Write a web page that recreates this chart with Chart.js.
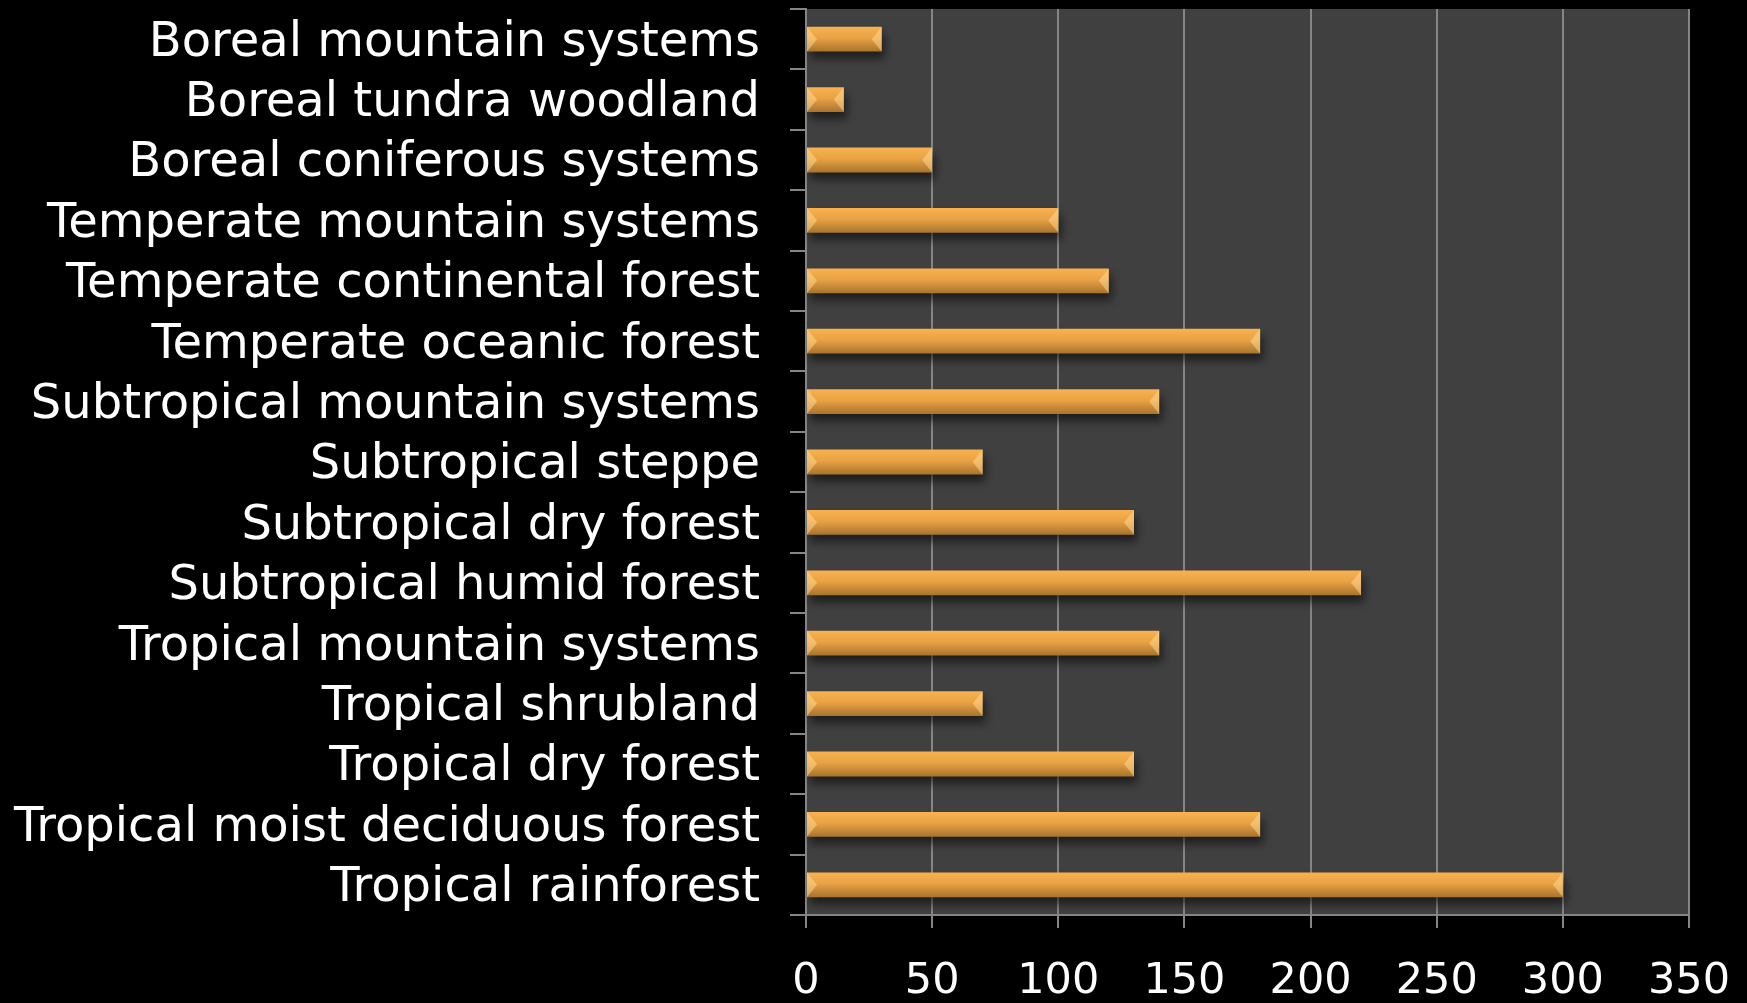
<!DOCTYPE html>
<html>
<head>
<meta charset="utf-8">
<script src="https://cdn.jsdelivr.net/npm/chart.js@4.4.1/dist/chart.umd.min.js"></script>
<style>
  html, body { margin: 0; padding: 0; background: #000; }
  #wrap { width: 1747px; height: 1003px; }
</style>
</head>
<body>
<div id="wrap"><canvas id="forestChart"></canvas></div>
<script>
const zones = [
    'Boreal mountain systems',
    'Boreal tundra woodland',
    'Boreal coniferous systems',
    'Temperate mountain systems',
    'Temperate continental forest',
    'Temperate oceanic forest',
    'Subtropical mountain systems',
    'Subtropical steppe',
    'Subtropical dry forest',
    'Subtropical humid forest',
    'Tropical mountain systems',
    'Tropical shrubland',
    'Tropical dry forest',
    'Tropical moist deciduous forest',
    'Tropical rainforest'
];
const values = [30, 15, 50, 100, 120, 180, 140, 70, 130, 220, 140, 70, 130, 180, 300];
const xTicks = [0, 50, 100, 150, 200, 250, 300, 350];
const BAR_PCT = 0.41;

// plot area background
const plotBg = {
    id: 'plotBg',
    beforeDraw(chart) {
        const { ctx, chartArea: a } = chart;
        ctx.save();
        ctx.fillStyle = '#404040';
        ctx.fillRect(a.left, a.top, a.right - a.left, a.bottom - a.top);
        ctx.restore();
    }
};

// soft shadow under the bars + light bevel at the ends
const barShadow = {
    id: 'barShadow',
    beforeDatasetDraw(chart) {
        const ctx = chart.ctx;
        ctx.save();
        ctx.shadowColor = 'rgba(0,0,0,0.55)';
        ctx.shadowBlur = 10;
        ctx.shadowOffsetX = 3;
        ctx.shadowOffsetY = 7;
    },
    afterDatasetDraw(chart) {
        const ctx = chart.ctx;
        ctx.restore();
        chart.getDatasetMeta(0).data.forEach(bar => {
            const h = bar.height, t = bar.y - h / 2, b = bar.y + h / 2;
            const w = Math.min(10, (bar.x - bar.base) / 3);
            ctx.save();
            ctx.fillStyle = 'rgba(255,220,150,0.5)';
            ctx.beginPath();
            ctx.moveTo(bar.base, t);
            ctx.lineTo(bar.base + w, bar.y);
            ctx.lineTo(bar.base, b);
            ctx.closePath();
            ctx.fill();
            ctx.beginPath();
            ctx.moveTo(bar.x, t);
            ctx.lineTo(bar.x - w, bar.y);
            ctx.lineTo(bar.x, b);
            ctx.closePath();
            ctx.fill();
            ctx.restore();
        });
    }
};

function barGradient(context) {
    const chart = context.chart;
    const yScale = chart.scales.y;
    if (!chart.chartArea || !yScale || context.dataIndex === undefined) return '#e8a040';
    const mid = yScale.getPixelForValue(context.dataIndex);
    const h = (chart.chartArea.bottom - chart.chartArea.top) / zones.length * BAR_PCT;
    if (!Number.isFinite(mid) || !Number.isFinite(h)) return '#e8a040';
    const g = chart.ctx.createLinearGradient(0, mid - h / 2, 0, mid + h / 2);
    g.addColorStop(0, '#f9b24f');
    g.addColorStop(0.45, '#e9a244');
    g.addColorStop(1, '#a9742d');
    return g;
}

const ctx = document.getElementById('forestChart').getContext('2d');
new Chart(ctx, {
    type: 'bar',
    data: {
        labels: zones,
        datasets: [{
            data: values,
            backgroundColor: barGradient,
            borderWidth: 0,
            barPercentage: BAR_PCT,
            categoryPercentage: 1
        }]
    },
    options: {
        indexAxis: 'y',
        responsive: true,
        maintainAspectRatio: false,
        animation: false,
        layout: { padding: { top: 9, right: 58, left: 0, bottom: 0 } },
        plugins: {
            legend: { display: false },
            tooltip: { enabled: false }
        },
        scales: {
            x: {
                min: 0,
                max: 350,
                afterBuildTicks: axis => { axis.ticks = xTicks.map(v => ({ value: v })); },
                afterFit: axis => {
                    axis.height = 88;
                    axis.paddingLeft = 0;
                    axis.paddingRight = 0;
                },
                grid: {
                    color: '#858585',
                    lineWidth: 2,
                    tickLength: 13,
                    drawOnChartArea: true
                },
                border: { display: true, color: '#858585', width: 2 },
                ticks: {
                    color: '#ffffff',
                    padding: 28,
                    font: { family: 'DejaVu Sans', size: 43 }
                }
            },
            y: {
                afterFit: axis => {
                    axis.width = 806;
                    axis.paddingTop = 0;
                    axis.paddingBottom = 0;
                },
                grid: {
                    offset: true,
                    color: '#858585',
                    lineWidth: 2,
                    tickLength: 16,
                    drawOnChartArea: false
                },
                border: { display: true, color: '#858585', width: 2 },
                ticks: {
                    color: '#ffffff',
                    padding: 30,
                    labelOffset: 4,
                    autoSkip: false,
                    font: { family: 'DejaVu Sans', size: 48 }
                }
            }
        }
    },
    plugins: [plotBg, barShadow]
});
</script>
</body>
</html>
